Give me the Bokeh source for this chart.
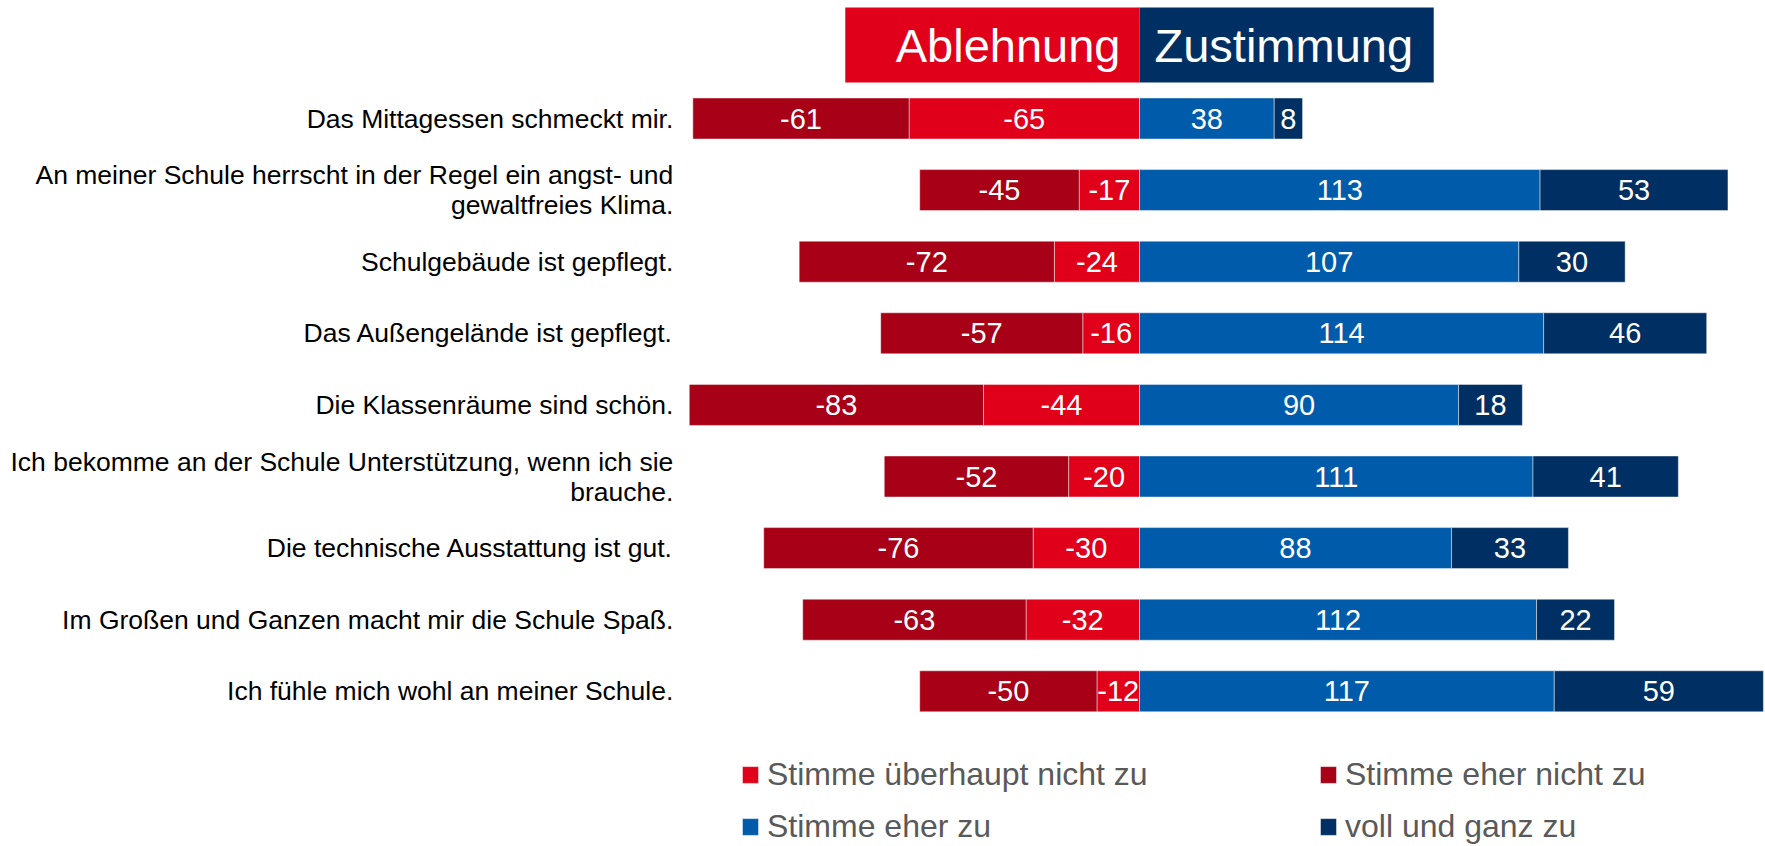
from bokeh.plotting import figure
from bokeh.models import ColumnDataSource, Range1d, Legend, LegendItem
from bokeh.core.properties import value
from bokeh.embed import file_html
from bokeh.resources import INLINE
import numpy as np

# ---------------- data ----------------
statements = [
    "Das Mittagessen schmeckt mir.",
    "An meiner Schule herrscht in der Regel ein angst- und\ngewaltfreies Klima.",
    "Schulgebäude ist gepflegt.",
    "Das Außengelände ist gepflegt.",
    "Die Klassenräume sind schön.",
    "Ich bekomme an der Schule Unterstützung, wenn ich sie\nbrauche.",
    "Die technische Ausstattung ist gut.",
    "Im Großen und Ganzen macht mir die Schule Spaß.",
    "Ich fühle mich wohl an meiner Schule.",
]
# outer red segment (dark red)
eher_nicht = [-61, -45, -72, -57, -83, -52, -76, -63, -50]
# inner red segment (bright red, next to zero)
ueberhaupt_nicht = [-65, -17, -24, -16, -44, -20, -30, -32, -12]
eher_zu = [38, 113, 107, 114, 90, 111, 88, 112, 117]
voll_und_ganz = [8, 53, 30, 46, 18, 41, 33, 22, 59]

legend_labels = ["Stimme überhaupt nicht zu", "Stimme eher nicht zu",
                 "Stimme eher zu", "voll und ganz zu"]
header_labels = ["Ablehnung", "Zustimmung"]
header_extent = 83

# ---------------- styles / layout ----------------
C_BRIGHT_RED = "#E1001A"
C_DARK_RED = "#A80016"
C_BLUE = "#005BAA"
C_NAVY = "#003063"
FONT = "Liberation Sans"

W, H = 1765, 846
PX_PER_UNIT = 3.545
ZERO_PX = 1139
ROW0_PX = 118
ROW_PX = 71.6
BAR_H = 0.573
LABEL_X = -131.5

x_start = -ZERO_PX / PX_PER_UNIT
x_end = (W - ZERO_PX) / PX_PER_UNIT
y_bottom = (H - ROW0_PX) / ROW_PX
y_top = -ROW0_PX / ROW_PX

p = figure(width=W, height=H, output_backend="svg", toolbar_location=None,
           x_range=Range1d(x_start, x_end), y_range=Range1d(y_bottom, y_top),
           x_axis_type=None, y_axis_type=None, min_border=0,
           outline_line_color=None)
p.xgrid.visible = False
p.ygrid.visible = False
p.background_fill_color = "white"
p.border_fill_color = "white"

n = len(statements)
y = np.arange(n)
un = np.array(ueberhaupt_nicht, dtype=float)
en = np.array(eher_nicht, dtype=float)
ez = np.array(eher_zu, dtype=float)
vg = np.array(voll_und_ganz, dtype=float)

src = ColumnDataSource(dict(
    y=y,
    un_l=un, un_r=np.zeros(n),
    en_l=un + en, en_r=un,
    ez_l=np.zeros(n), ez_r=ez,
    vg_l=ez, vg_r=ez + vg,
))

bar_kw = dict(y="y", height=BAR_H, source=src, line_color="white",
              line_alpha=0.45, line_width=1)
r_un = p.hbar(left="un_l", right="un_r", fill_color=C_BRIGHT_RED, **bar_kw)
r_en = p.hbar(left="en_l", right="en_r", fill_color=C_DARK_RED, **bar_kw)
r_ez = p.hbar(left="ez_l", right="ez_r", fill_color=C_BLUE, **bar_kw)
r_vg = p.hbar(left="vg_l", right="vg_r", fill_color=C_NAVY, **bar_kw)

# value labels
lab_x = np.concatenate([un / 2, un + en / 2, ez / 2, ez + vg / 2])
lab_y = np.concatenate([y, y, y, y])
lab_t = [str(int(v)) for v in np.concatenate([un, en, ez, vg])]
p.text(x=lab_x, y=lab_y, text=lab_t, text_color="white",
       text_font=value(FONT), text_font_size="29px",
       text_align="center", text_baseline="middle")

# statement labels
p.text(x=[LABEL_X] * n, y=y, text=statements, text_color="#000000",
       text_font=value(FONT), text_font_size="26.5px",
       text_align="right", text_baseline="middle", text_line_height=1.0)

# header
h_top = (7 - ROW0_PX) / ROW_PX
h_bot = (82 - ROW0_PX) / ROW_PX
p.quad(left=[-header_extent, 0], right=[0, header_extent],
       top=[h_top, h_top], bottom=[h_bot, h_bot],
       fill_color=[C_BRIGHT_RED, C_NAVY], line_color=None)
h_mid = (h_top + h_bot) / 2
p.text(x=[0], y=[h_mid], text=[header_labels[0]], text_color="white",
       text_font=value(FONT), text_font_size="47px", x_offset=-19,
       text_align="right", text_baseline="middle")
p.text(x=[0], y=[h_mid], text=[header_labels[1]], text_color="white",
       text_font=value(FONT), text_font_size="47px", x_offset=15,
       text_align="left", text_baseline="middle")

# legends
leg_kw = dict(orientation="vertical", padding=0, margin=0,
              border_line_alpha=0, background_fill_alpha=0,
              glyph_width=20, glyph_height=21, label_standoff=7,
              label_text_font=FONT, label_text_font_size="32px",
              label_text_color="#595959", label_height=32, spacing=15)
leg1 = Legend(items=[LegendItem(label=legend_labels[0], renderers=[r_un]),
                     LegendItem(label=legend_labels[2], renderers=[r_ez])],
              location=(740, 1), **leg_kw)
leg2 = Legend(items=[LegendItem(label=legend_labels[1], renderers=[r_en]),
                     LegendItem(label=legend_labels[3], renderers=[r_vg])],
              location=(1318, 1), **leg_kw)
p.add_layout(leg1, "center")
p.add_layout(leg2, "center")

open("out.html", "w").write(file_html(p, INLINE))
